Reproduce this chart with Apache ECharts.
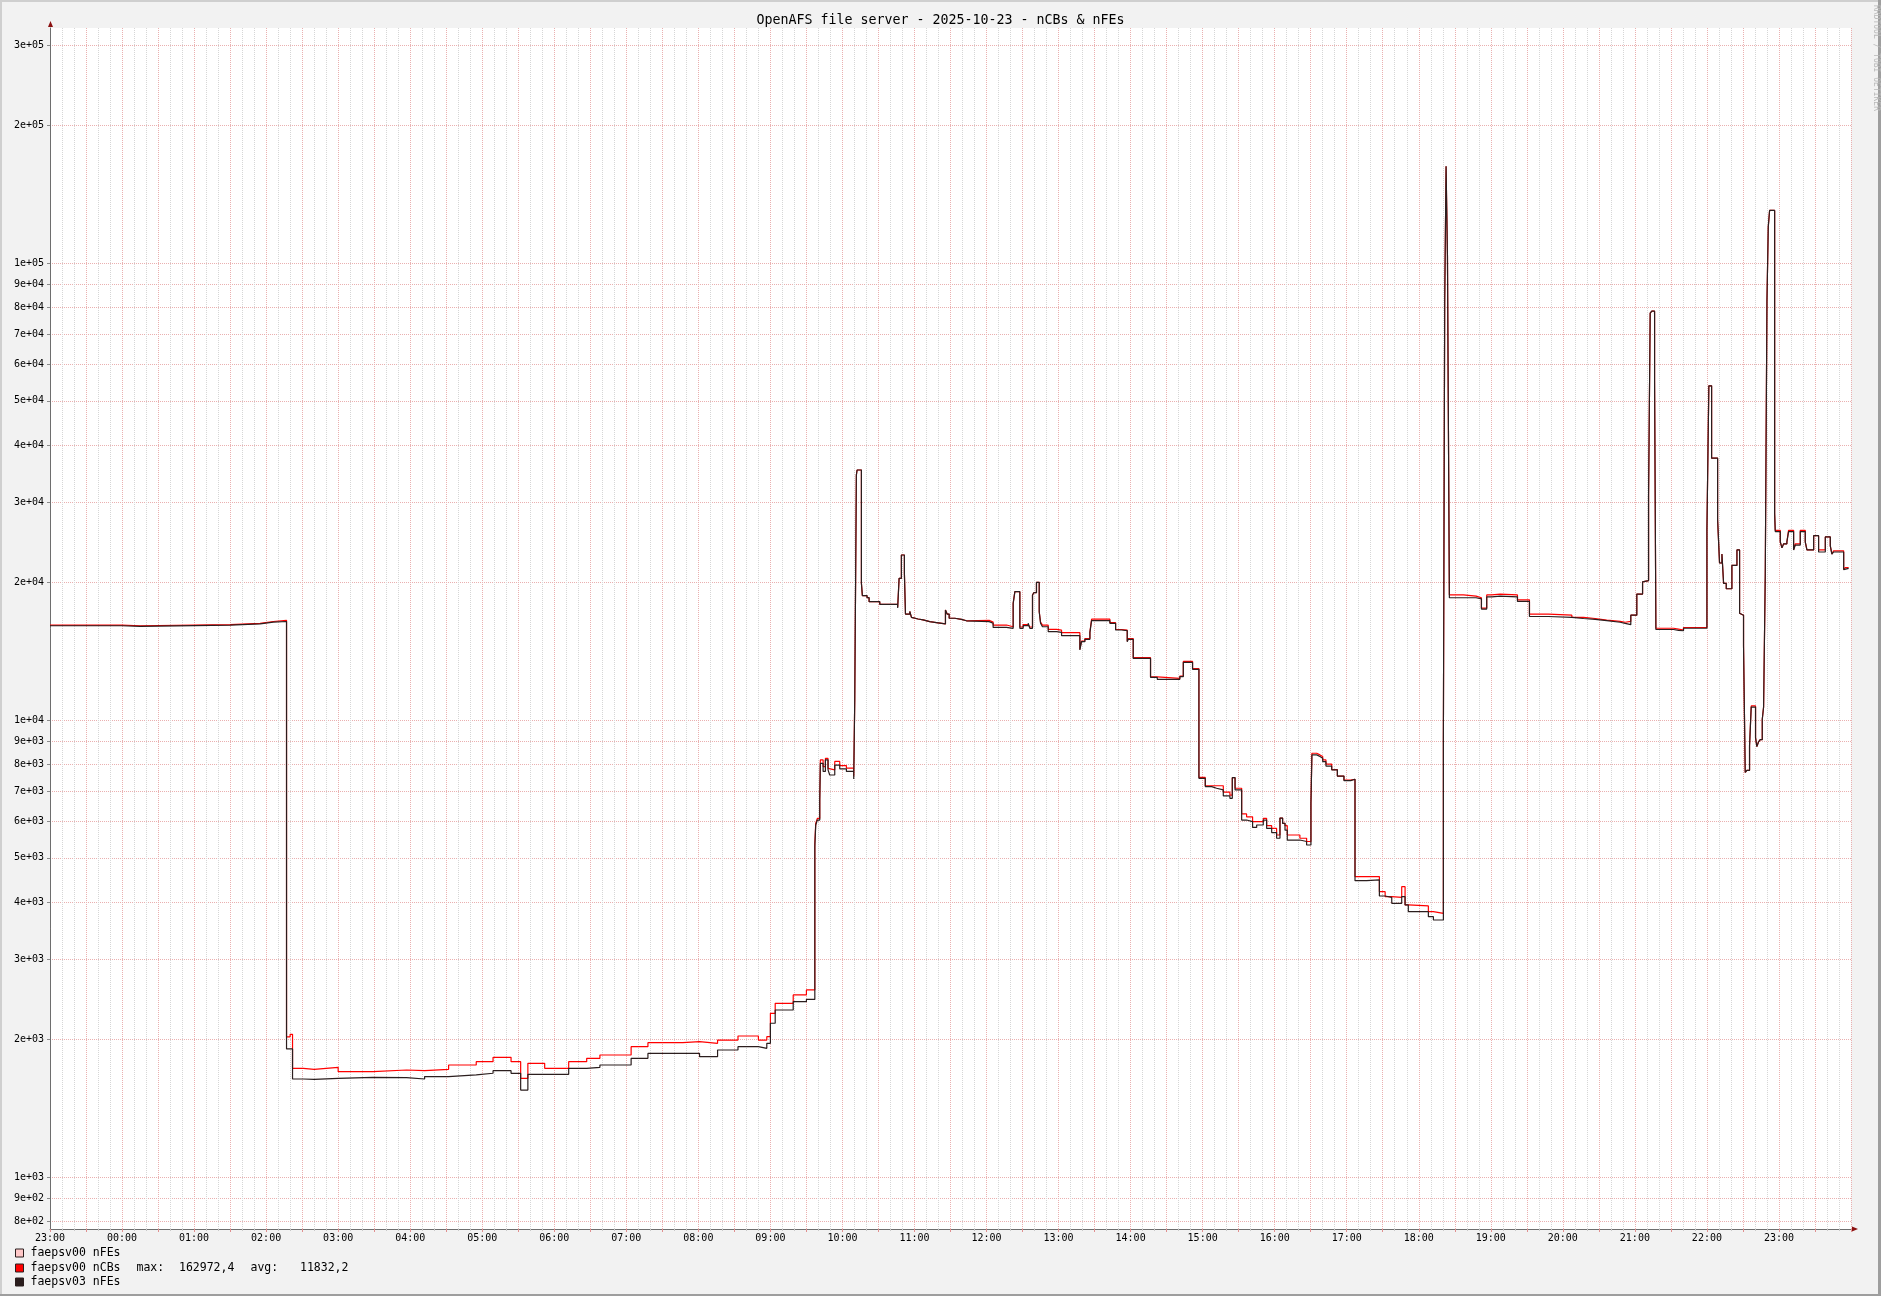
<!DOCTYPE html>
<html><head><meta charset="utf-8">
<script src="https://cdn.jsdelivr.net/npm/echarts@6/dist/echarts.min.js"></script>
<style>html,body{margin:0;padding:0;background:#f2f2f2}#c{width:1881px;height:1296px}</style>
</head><body><div id="c"></div>
<script>
// ---------- DATA ----------
const chartTitle = 'OpenAFS file server - 2025-10-23 - nCBs & nFEs';
const startHour = 23;           // x axis starts at 23:00 (previous day)
const spanMinutes = 1500;       // 25 hours
const yTickValues = [800, 900, 1000, 2000, 3000, 4000, 5000, 6000, 7000, 8000, 9000,
  10000, 20000, 30000, 40000, 50000, 60000, 70000, 80000, 90000, 100000, 200000, 300000];
const yMin = 770.7, yMax = 327200;

// [minutes since 23:00, value]  (step changes)
const ncbs00 = [
 [0,16150],[60,16100],[75,16200],[150,16300],[175,16450],[186,16550],
 [197,2030],[200,2055],[202,1732],[211,1723],[220,1740],[240,1703],[269,1717],[297,1711],[312,1723],[332,1761],[355,1791],[369,1830],[384,1791],[392,1646],[398,1776],[412,1732],[432,1791],[447,1821],[458,1852],[484,1931],[498,1971],[527,1981],[541,1964],[556,1997],[573,2038],[590,1997],[597,2031],[600,2285],[604,2403],[619,2506],[630,2570],
 [637,5380],[637.75,5950],[639.1,6100],[641.1,6690],[641.6,8190],[643.9,7920],[645.8,8250],[648,7850],[649.4,7790],[653.6,8130],[657.75,7960],[663.3,7860],[669.4,7540],[670.25,11080],[671.6,34420],[672.2,35290],[675.8,19940],[676.6,18740],[680.5,18550],[682.2,18180],[691.1,17940],[706,17700],[707.2,20450],[709.1,23000],[711.6,20970],[712.5,17080],[716.1,17300],[717.5,16800],[718.9,16660],[723,16580],[727.2,16440],[732.75,16360],[738.3,16250],[745.8,17430],[747.2,17080],[748.9,16720],[753.6,16630],[759.1,16510],[763.3,16540],[782.2,16400],[785.5,16160],[796.6,16020],[802.2,18030],[803.6,19120],[807.75,16000],[810.5,16200],[814.7,16310],[816.1,16000],[818.3,18800],[819.4,19020],[821.6,20040],[823.9,17280],[825,16400],[826.6,16150],[831.4,15810],[838.3,15750],[842.5,15550],[857.75,14300],[859.1,14900],[861.9,15100],[866.1,15600],[867.5,16640],[882.75,16350],[887.5,15800],[892.5,15750],[897.2,14900],[898,15100],[902.2,13710],[916.6,12450],[922.2,12350],[941,12500],[943.9,13450],[951.6,12980],[956.9,7500],[962.2,7190],[967.5,7190],[971.6,7190],[977.2,6960],[982.7,6860],[984.7,7490],[987,7100],[992.5,6240],[996.6,6150],[1001.6,6000],[1005,6000],[1010.5,6100],[1013.3,5880],[1017.5,5800],[1021.6,5610],[1024.4,6110],[1026.6,5950],[1028.6,5880],[1030.5,5610],[1041,5520],[1046.6,5430],[1050.2,6577],[1051,8470],[1055,8400],[1057.7,8330],[1060,8190],[1062.7,8020],[1067.5,7800],[1072.2,7550],[1077.7,7400],[1083.3,7430],[1086.9,4550],[1096.6,4550],[1107.2,4217],[1112,4112],[1117.5,4098],[1125.8,4325],[1128.6,3944],[1131.3,3924],[1148,3813],[1152.2,3781],
 [1160.5,9160],[1161.6,81850],[1162.75,162972],[1163.9,103680],[1165.5,18810],[1177.2,18700],[1187.75,18540],[1192.2,17600],[1196.6,18810],[1200.8,18890],[1207.75,18810],[1222.2,18350],[1232.2,17080],[1248,16980],[1267.5,16800],[1277.2,16700],[1286.9,16560],[1296.6,16460],[1307.75,16390],[1311.9,16460],[1316.6,16980],[1321.6,18890],[1326.4,20090],[1327.75,20220],[1331.4,31130],[1332.75,77770],[1334.1,78560],[1336.4,55380],[1337.5,15900],[1352.2,15830],[1356.4,15760],[1360.5,15960],[1380,26140],[1381.6,53920],[1383.9,37460],[1388.9,27520],[1390.5,22090],[1392.5,23110],[1393.9,19930],[1396.1,19400],[1400.8,21820],[1405,23590],[1407.2,17150],[1408.6,16980],[1410.5,14550],[1411.9,7690],[1413.3,7770],[1415.5,8790],[1416.9,10750],[1420.5,9160],[1421.6,8755],[1423,8975],[1424.4,9070],[1426.1,10050],[1427.2,10690],[1428.6,20850],[1430,82700],[1431.1,120230],[1432.2,130500],[1436.4,28380],[1436.9,26040],[1441.1,24580],[1442.5,23840],[1443.9,24330],[1446.6,24580],[1448,26040],[1452.2,23590],[1453.6,24330],[1457.75,26040],[1461.9,24580],[1463.3,23590],[1468.9,25350],[1473,23590],[1478.6,25190],[1482.75,24080],[1484.1,23110],[1485.5,23490],[1493.9,21370],[1495.25,21590],[1498,21590]
];
const nfes03 = [
 [0,16100],[60,16050],[75,16150],[150,16250],[175,16400],[186,16450],
 [197,1909],[202,1641],[211,1638],[220,1646],[240,1655],[269,1652],[297,1641],[312,1661],[332,1675],[355,1689],[369,1711],[384,1689],[392,1552],[398,1680],[412,1680],[432,1732],[447,1740],[458,1761],[484,1821],[498,1867],[527,1867],[541,1836],[556,1899],[573,1931],[590,1915],[597,1964],[600,2173],[604,2323],[619,2423],[630,2450],
 [637,5290],[637.75,5900],[639.1,6050],[641.1,6650],[641.6,8050],[643.9,7730],[645.8,8190],[648,7790],[649.4,7590],[653.6,7980],[657.75,7830],[663.3,7730],[669.4,7440],[670.25,11080],[671.6,34420],[672.2,35290],[675.8,19940],[676.6,18740],[680.5,18550],[682.2,18180],[691.1,17940],[706,17600],[707.2,20450],[709.1,23000],[711.6,20970],[712.5,17080],[716.1,17300],[717.5,16800],[718.9,16660],[723,16580],[727.2,16440],[732.75,16360],[738.3,16250],[745.8,17430],[747.2,17080],[748.9,16720],[753.6,16630],[759.1,16510],[763.3,16440],[782.2,16310],[785.5,15970],[796.6,15890],[802.2,18030],[803.6,19120],[807.75,15890],[810.5,16110],[814.7,16310],[816.1,15890],[818.3,18800],[819.4,19020],[821.6,20040],[823.9,17280],[825,16310],[826.6,16020],[831.4,15630],[838.3,15580],[842.5,15320],[857.75,14250],[859.1,14860],[861.9,15040],[866.1,15550],[867.5,16520],[882.75,16300],[887.5,15760],[892.5,15710],[897.2,14860],[898,15040],[902.2,13660],[916.6,12420],[922.2,12290],[941,12460],[943.9,13390],[951.6,12930],[956.9,7465],[962.2,7160],[967.5,7100],[971.6,7040],[977.2,6830],[982.7,6750],[984.7,7490],[987,7040],[992.5,6050],[996.6,6000],[1001.6,5830],[1005,5900],[1010.5,6050],[1013.3,5800],[1017.5,5680],[1021.6,5520],[1024.4,6110],[1026.6,5950],[1028.6,5750],[1030.5,5470],[1041,5430],[1046.6,5335],[1050.2,6577],[1051,8400],[1055,8330],[1057.7,8260],[1060,8120],[1062.7,7940],[1067.5,7790],[1072.2,7550],[1077.7,7380],[1083.3,7430],[1086.9,4458],[1096.6,4473],[1107.2,4126],[1112,4098],[1117.5,3977],[1125.8,4112],[1128.6,3944],[1131.3,3813],[1148,3718],[1152.2,3656],
 [1160.5,9060],[1161.6,81850],[1162.75,162972],[1163.9,103680],[1165.5,18540],[1177.2,18540],[1187.75,18430],[1192.2,17510],[1196.6,18620],[1200.8,18700],[1207.75,18620],[1222.2,18200],[1232.2,16870],[1248,16800],[1267.5,16700],[1277.2,16630],[1286.9,16530],[1296.6,16390],[1307.75,16290],[1311.9,16190],[1316.6,16980],[1321.6,18890],[1326.4,20090],[1327.75,20220],[1331.4,31130],[1332.75,77770],[1334.1,78560],[1336.4,55380],[1337.5,15800],[1352.2,15730],[1356.4,15700],[1360.5,15900],[1380,26140],[1381.6,53920],[1383.9,37460],[1388.9,27520],[1390.5,22090],[1392.5,23110],[1393.9,19930],[1396.1,19400],[1400.8,21820],[1405,23590],[1407.2,17150],[1408.6,16980],[1410.5,14550],[1411.9,7690],[1413.3,7770],[1415.5,8790],[1416.9,10690],[1420.5,9160],[1421.6,8755],[1423,8975],[1424.4,9070],[1426.1,10050],[1427.2,10690],[1428.6,20850],[1430,82700],[1431.1,120230],[1432.2,130500],[1436.4,28380],[1436.9,25880],[1441.1,24580],[1442.5,23840],[1443.9,24330],[1446.6,24580],[1448,25880],[1452.2,23590],[1453.6,24180],[1457.75,25880],[1461.9,24580],[1463.3,23590],[1468.9,25350],[1473,23350],[1478.6,25190],[1482.75,24080],[1484.1,23110],[1485.5,23350],[1493.9,21370],[1495.25,21500],[1498,21500]
];

const legendNames = ['faepsv00 nFEs', 'faepsv00 nCBs', 'faepsv03 nFEs'];
const legendColors = ['#ffc8c8', '#ff0000', '#2b1e1e'];
const legendStats = ['max:', '162972,4', 'avg:', '11832,2'];
const watermark = 'RRDTOOL / TOBI OETIKER';

// ---------- CHART ----------
const MONO = '"DejaVu Sans Mono", "Liberation Mono", monospace';
function fmtExp(v) {
  const e = Math.floor(Math.log10(v) + 1e-9);
  const m = Math.round(v / Math.pow(10, e));
  return m + 'e+' + String(e).padStart(2, '0');
}
function fmtTime(m) {
  if (m % 60 !== 0 || m >= spanMinutes) return '';
  const h = (startHour + m / 60) % 24;
  return String(h).padStart(2, '0') + ':00';
}

const chart = echarts.init(document.getElementById('c'), null, { renderer: 'canvas' });

const W = 1881, H = 1296;
const legendY = [1253.5, 1268.5, 1282.5];
const graphics = [
  { type: 'rect', shape: { x: 0, y: 0, width: W, height: 2 }, style: { fill: '#cfcfcf' }, silent: true },
  { type: 'rect', shape: { x: 0, y: 0, width: 2, height: H }, style: { fill: '#cfcfcf' }, silent: true },
  { type: 'rect', shape: { x: W - 3, y: 0, width: 3, height: H }, style: { fill: '#9e9e9e' }, silent: true },
  { type: 'rect', shape: { x: 0, y: H - 2, width: W, height: 2 }, style: { fill: '#9e9e9e' }, silent: true },
  // axis arrows
  { type: 'polygon', shape: { points: [[48, 27], [53, 27], [50.5, 21]] }, style: { fill: '#8b1010' }, silent: true, z: 10 },
  { type: 'polygon', shape: { points: [[1852, 1226.5], [1852, 1231.5], [1858, 1229]] }, style: { fill: '#8b1010' }, silent: true, z: 10 },
  { type: 'text', x: 1876, y: 5, rotation: -Math.PI / 2,
    style: { text: watermark, fill: '#b8b8b8', font: '8px ' + MONO, textAlign: 'left', textVerticalAlign: 'middle' }, silent: true }
];
legendNames.forEach((n, i) => {
  graphics.push({ type: 'rect', shape: { x: 15.5, y: legendY[i] - 4.5, width: 8, height: 8 },
    style: { fill: legendColors[i], stroke: '#2b1e1e', lineWidth: 1 }, silent: true });
  graphics.push({ type: 'text', x: 30.5, y: legendY[i],
    style: { text: n, fill: '#000', font: '11.5px ' + MONO, textVerticalAlign: 'middle' }, silent: true });
});
const statX = [136.5, 179, 250.5, 300];
legendStats.forEach((s, i) => {
  graphics.push({ type: 'text', x: statX[i], y: legendY[1],
    style: { text: s, fill: '#000', font: '11.5px ' + MONO, textVerticalAlign: 'middle' }, silent: true });
});

const option = {
  animation: false,
  backgroundColor: '#f2f2f2',
  title: {
    text: chartTitle, left: 'center', top: 14.5, padding: 0,
    textStyle: { fontFamily: MONO, fontSize: 13.3, fontWeight: 'normal', color: '#000' }
  },
  grid: { left: 50, right: 30, top: 28, bottom: 67, show: true, backgroundColor: '#ffffff', borderWidth: 0 },
  xAxis: {
    type: 'value', min: 0, max: spanMinutes, interval: 30,
    axisLine: { show: true, onZero: false, lineStyle: { color: '#6e6e6e', width: 1 } },
    axisTick: { show: true, length: 3, lineStyle: { color: '#e09090' } },
    minorTick: { show: true, splitNumber: 3, length: 2, lineStyle: { color: '#c8c8c8' } },
    splitLine: { show: true, lineStyle: { color: '#eab0b0', width: 1, type: [1, 1] } },
    minorSplitLine: { show: true, lineStyle: { color: '#d6d6d6', width: 1, type: [1, 1] } },
    axisLabel: { formatter: fmtTime, fontFamily: MONO, fontSize: 10, color: '#000', margin: 4,
      showMaxLabel: false, showMinLabel: true, hideOverlap: false }
  },
  yAxis: {
    type: 'log', logBase: 10, min: yMin, max: yMax,
    axisLine: { show: true, onZero: false, lineStyle: { color: '#6e6e6e', width: 1 } },
    axisTick: { show: true, length: 3, customValues: yTickValues, lineStyle: { color: '#8a8a8a' } },
    splitLine: { show: true, lineStyle: { color: '#eab0b0', width: 1, type: [1, 1] } },
    minorTick: { show: false }, minorSplitLine: { show: false },
    axisLabel: { customValues: yTickValues, formatter: fmtExp, fontFamily: MONO, fontSize: 10, color: '#000', margin: 6 }
  },
  series: [
    { name: 'faepsv00 nCBs', type: 'line', step: 'end', data: ncbs00, showSymbol: false, symbol: 'none',
      lineStyle: { color: '#ff0000', width: 1.2 }, silent: true, z: 3 },
    { name: 'faepsv03 nFEs', type: 'line', step: 'end', data: nfes03, showSymbol: false, symbol: 'none',
      lineStyle: { color: '#2b1e1e', width: 1.2 }, silent: true, z: 4 }
  ],
  graphic: graphics
};
chart.setOption(option);
</script></body></html>
